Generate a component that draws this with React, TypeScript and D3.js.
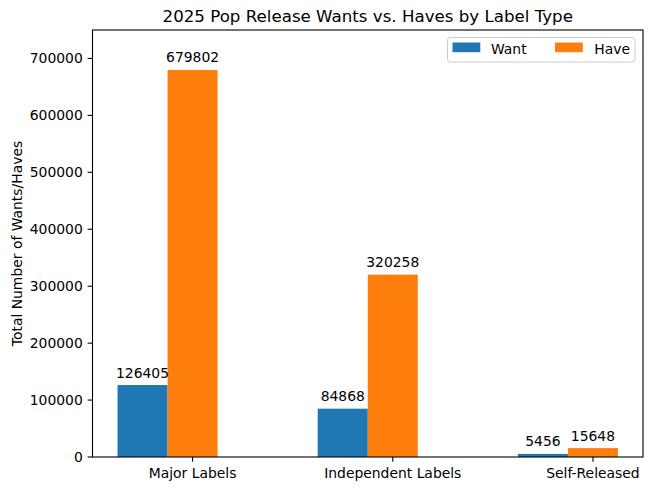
import { useMemo } from "react";
import * as d3 from "d3";

const categories = ["Major Labels", "Independent Labels", "Self-Released"];
const wants = [126405, 84868, 5456];
const haves = [679802, 320258, 15648];
const yTicks = [0, 100000, 200000, 300000, 400000, 500000, 600000, 700000];
const yMax = 750000;

const W = 651;
const H = 491;
const M = { left: 92.5, right: 643, top: 30, bottom: 457 };
const FONT = "'DejaVu Sans', sans-serif";
const BLUE = "#1f77b4";
const ORANGE = "#ff7f0e";
const BW = 0.25;

export default function App() {
  const x = useMemo(
    () => d3.scaleLinear().domain([-0.375, categories.length - 1 + 0.375]).range([M.left, M.right]),
    [],
  );
  const y = useMemo(() => d3.scaleLinear().domain([0, yMax]).range([M.bottom, M.top]), []);

  const bars = categories.flatMap((c, i) => [
    { key: `w${i}`, x0: i - BW, v: wants[i], fill: BLUE },
    { key: `h${i}`, x0: i, v: haves[i], fill: ORANGE },
  ]);

  return (
    <svg
      width={W}
      height={H}
      style={{ position: "absolute", left: 0, top: 0, background: "#fff" }}
      fontFamily={FONT}
    >
      <rect width={W} height={H} fill="#fff" />
      {/* bars */}
      {bars.map((b) => (
        <rect
          key={b.key}
          x={x(b.x0)}
          y={y(b.v)}
          width={x(b.x0 + BW) - x(b.x0)}
          height={y(0) - y(b.v)}
          fill={b.fill}
        />
      ))}
      {/* bar labels */}
      {bars.map((b) => (
        <text
          key={`l${b.key}`}
          x={x(b.x0 + BW / 2)}
          y={y(b.v) - 7.5}
          fontSize={13.9}
          textAnchor="middle"
          fill="#000"
        >
          {b.v}
        </text>
      ))}
      {/* y ticks */}
      {yTicks.map((t) => (
        <g key={t}>
          <line x1={M.left - 4.86} x2={M.left} y1={y(t)} y2={y(t)} stroke="#000" strokeWidth={1.1} />
          <text x={M.left - 9.7} y={y(t) + 5} fontSize={13.9} textAnchor="end">
            {t}
          </text>
        </g>
      ))}
      {/* x ticks */}
      {categories.map((c, i) => (
        <g key={c}>
          <line
            x1={x(i + BW / 2)}
            x2={x(i + BW / 2)}
            y1={M.bottom}
            y2={M.bottom + 4.86}
            stroke="#000"
            strokeWidth={1.1}
          />
          <text x={x(i + BW / 2)} y={M.bottom + 21} fontSize={13.9} textAnchor="middle">
            {c}
          </text>
        </g>
      ))}
      {/* frame */}
      <rect
        x={M.left}
        y={M.top}
        width={M.right - M.left}
        height={M.bottom - M.top}
        fill="none"
        stroke="#000"
        strokeWidth={1.1}
      />
      {/* title */}
      <text x={(M.left + M.right) / 2} y={22} fontSize={16.67} textAnchor="middle">
        2025 Pop Release Wants vs. Haves by Label Type
      </text>
      {/* y label */}
      <text
        transform={`translate(22,${(M.top + M.bottom) / 2}) rotate(-90)`}
        fontSize={13.9}
        textAnchor="middle"
      >
        Total Number of Wants/Haves
      </text>
      {/* legend */}
      <g>
        <rect x={447.5} y={37.5} width={187.5} height={24.5} rx={2.8} fill="#fff" fillOpacity={0.8} stroke="#cccccc" strokeWidth={1} />
        <rect x={452.5} y={42.5} width={27.8} height={9.7} fill={BLUE} />
        <text x={491} y={54.3} fontSize={13.9}>Want</text>
        <rect x={555} y={42.5} width={27.8} height={9.7} fill={ORANGE} />
        <text x={594.3} y={54.3} fontSize={13.9}>Have</text>
      </g>
    </svg>
  );
}
